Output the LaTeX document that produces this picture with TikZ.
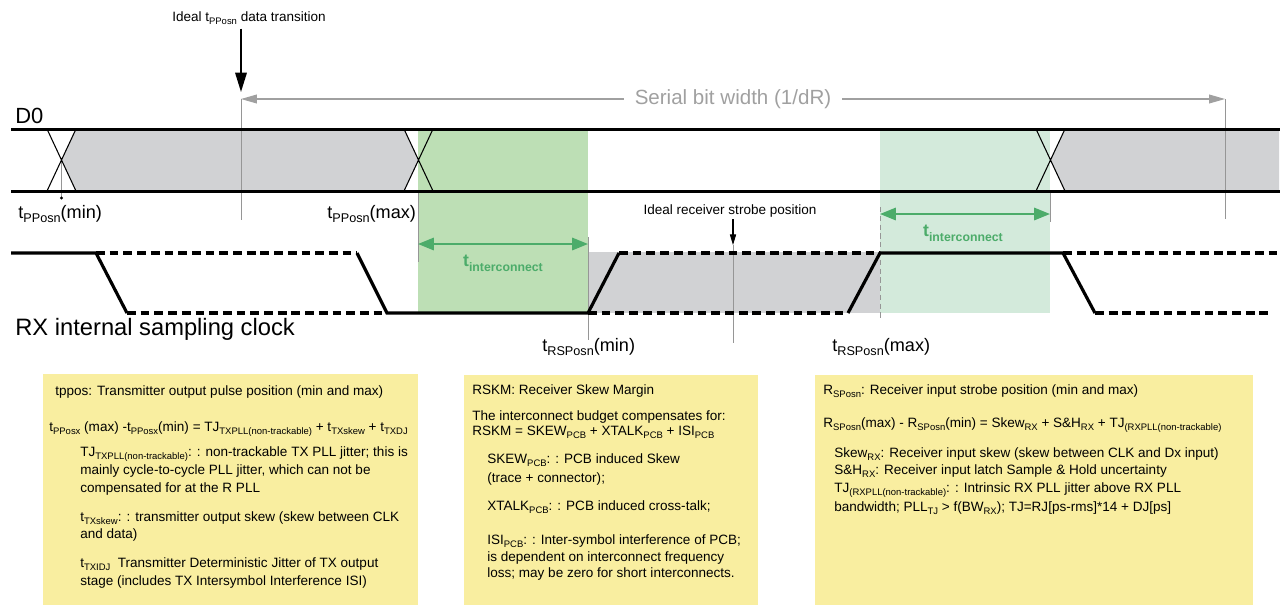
\documentclass[tikz,border=0pt]{standalone}
\usepackage{fontspec}
\setmainfont{Liberation Sans}
\usetikzlibrary{arrows.meta}
\definecolor{boxyellow}{RGB}{249,238,160}
\definecolor{greendark}{RGB}{189,223,181}
\definecolor{greenlight}{RGB}{211,234,219}
\definecolor{greentext}{RGB}{76,172,106}
\definecolor{bandgray}{RGB}{209,210,212}
\definecolor{guidegray}{RGB}{150,150,150}
\definecolor{widthgray}{RGB}{160,160,160}
\newcommand{\sbs}[1]{\raisebox{-0.5ex}{\scalebox{0.7}{#1}}}
\begin{document}
\begin{tikzpicture}[x=0.02cm, y=-0.02cm,
	bus/.style={line width=1.7pt},
	clk/.style={line width=1.8pt},
	clkdash/.style={clk, dash pattern=on 5pt off 2.8pt},
	guide/.style={guidegray, line width=0.4pt},
	lbl/.style={inner sep=0pt, font=\fontsize{10.3}{12}\selectfont},
	small/.style={inner sep=0pt, font=\fontsize{7.7}{9}\selectfont},
	big/.style={inner sep=0pt, font=\fontsize{13.5}{16}\selectfont},
	ictxt/.style={inner sep=0pt, text=greentext, font=\fontsize{10}{12}\selectfont\bfseries},
	boxtxt/.style={inner sep=0pt, anchor=base west, font=\fontsize{7.7}{9}\selectfont},
	widtharr/.style={widthgray, line width=0.6pt, -{Triangle[length=9pt,width=5pt]}},
	grarr/.style={greentext, line width=1.2pt, {Triangle[length=9pt,width=7pt]}-{Triangle[length=9pt,width=7pt]}}]
	\useasboundingbox (0,0) rectangle (1281,606);

	\fill[greendark]  (418,129) rectangle (588,313);
	\fill[greenlight] (880,129) rectangle (1050,313);
	\fill[bandgray] (588,252) rectangle (880,313);
	\fill[bandgray] (61.5,160) -- (76,129) -- (404,129) -- (418.5,160) -- (404,191) -- (76,191) -- cycle;
	\fill[bandgray] (1050,160) -- (1065,129) -- (1279,129) -- (1279,191) -- (1065,191) -- cycle;
	\fill[boxyellow] (43,374) rectangle (418,605);
	\fill[boxyellow] (464,375) rectangle (758,605);
	\fill[boxyellow] (815,375) rectangle (1253,605);

	\draw[guide] (61.5,160) -- (61.5,198);
	\fill (61.5,198) circle (1.6);
	\draw[guide] (241,99) -- (241,220);
	\draw[guide] (418,191) -- (418,262);
	\draw[guide] (588,237) -- (588,340);
	\draw[guide] (733,245) -- (733,343);
	\draw[guide, densely dashed] (880,207) -- (880,320);
	\draw[guide] (1050,191) -- (1050,222);
	\draw[guide] (1225,99) -- (1225,219);

	\draw[bus] (11,129) -- (1280,129);
	\draw[bus] (11,191) -- (1280,191);
	\draw[line width=0.6pt] (47,129) -- (76,191) (76,129) -- (47,191);
	\draw[line width=0.6pt] (404,129) -- (433,191) (433,129) -- (404,191);
	\draw[line width=0.6pt] (1036,129) -- (1065,191) (1065,129) -- (1036,191);

	\draw[clk] (11,253) -- (96,253) -- (127,313);
	\draw[clk] (357,253) -- (387,313) -- (588,313) -- (619,253);
	\draw[clk] (848,313) -- (880,253) -- (1063,253) -- (1095,313);
	\draw[clkdash] (96,253) -- (357,253);
	\draw[clkdash] (127,313) -- (387,313);
	\draw[clkdash] (619,253) -- (880,253);
	\draw[clkdash] (588,313) -- (848,313);
	\draw[clkdash] (1063,253) -- (1280,253);
	\draw[clkdash] (1095,313) -- (1270,313);

	\node (d0) at (15,123) [big, anchor=base west, font=\fontsize{12.5}{15}\selectfont] {D0};
	\node (rx) at (15,335) [big, anchor=base west] {RX internal sampling clock};
	\node (bw) at (733,99) [inner ysep=0pt, inner xsep=6pt, text=widthgray, font=\fontsize{11.7}{14}\selectfont] {Serial bit width (1/dR)};
	\coordinate (bwL) at (241,99);
	\coordinate (bwR) at (1225,99);
	\draw[widtharr] (bw) -- (bwL);
	\draw[widtharr] (bw) -- (bwR);

	\node (idl) at (249,18) [small] {Ideal t\sbs{PPosn} data transition};
	\coordinate (idlpt) at (241,92);
	\draw[line width=1.1pt, -{Triangle[length=11pt,width=6.5pt]}, shorten <=2pt] (idlpt |- idl.south) -- (idlpt);

	\node (ppmin) at (18,218) [lbl, anchor=base west] {t\sbs{PPosn}(min)};
	\node (ppmax) at (327,218) [lbl, anchor=base west] {t\sbs{PPosn}(max)};
	\node (rsmin) at (542,351) [lbl, anchor=base west] {t\sbs{RSPosn}(min)};
	\node (rsmax) at (832,351) [lbl, anchor=base west] {t\sbs{RSPosn}(max)};

	\node (strb) at (730,211) [small] {Ideal receiver strobe position};
	\coordinate (strbpt) at (733,245);
	\draw[line width=0.6pt, -{Triangle[length=6pt,width=3.5pt]}, shorten <=1pt] (strbpt |- strb.south) -- (strbpt);

	\coordinate (ic1L) at (418,244);
	\coordinate (ic1R) at (588,244);
	\draw[grarr] (ic1L) -- (ic1R);
	\node (ic1) at (503,263) [ictxt] {t\sbs{interconnect}};
	\coordinate (ic2L) at (880,214);
	\coordinate (ic2R) at (1050,214);
	\draw[grarr] (ic2L) -- (ic2R);
	\node (ic2) at (963,233) [ictxt] {t\sbs{interconnect}};

	\node (tp1) at (55,395) [boxtxt] {tppos: Transmitter output pulse position (min and max)};
	\node (tp2) at (49,431) [boxtxt] {t\sbs{PPosx} (max) -t\sbs{PPosx}(min) = TJ\sbs{TXPLL(non-trackable)} + t\sbs{TXskew} + t\sbs{TXDJ}};
	\node (tp3) at (80,456) [boxtxt] {TJ\sbs{TXPLL(non-trackable)}: : non-trackable TX PLL jitter; this is};
	\node (tp4) at (80,474) [boxtxt] {mainly cycle-to-cycle PLL jitter, which can not be};
	\node (tp5) at (80,492) [boxtxt] {compensated for at the R PLL};
	\node (tp6) at (80,521) [boxtxt] {t\sbs{TXskew}: : transmitter output skew (skew between CLK};
	\node (tp7) at (80,538) [boxtxt] {and data)};
	\node (tp8) at (80,567) [boxtxt] {t\sbs{TXIDJ}\ \ Transmitter Deterministic Jitter of TX output};
	\node (tp9) at (80,585) [boxtxt] {stage (includes TX Intersymbol Interference ISI)};

	\node (rk1) at (472,394) [boxtxt] {RSKM: Receiver Skew Margin};
	\node (rk2) at (472,420) [boxtxt] {The interconnect budget compensates for:};
	\node (rk3) at (472,435) [boxtxt] {RSKM = SKEW\sbs{PCB} + XTALK\sbs{PCB} + ISI\sbs{PCB}};
	\node (rk4) at (487,463) [boxtxt] {SKEW\sbs{PCB}: : PCB induced Skew};
	\node (rk5) at (487,482) [boxtxt] {(trace + connector);};
	\node (rk6) at (487,510) [boxtxt] {XTALK\sbs{PCB}: : PCB induced cross-talk;};
	\node (rk7) at (487,544) [boxtxt] {ISI\sbs{PCB}: : Inter-symbol interference of PCB;};
	\node (rk8) at (487,561) [boxtxt] {is dependent on interconnect frequency};
	\node (rk9) at (487,577) [boxtxt] {loss; may be zero for short interconnects.};

	\node (rs1) at (823,394) [boxtxt] {R\sbs{SPosn}: Receiver input strobe position (min and max)};
	\node (rs2) at (823,427) [boxtxt] {R\sbs{SPosn}(max) - R\sbs{SPosn}(min) = Skew\sbs{RX} + S\&H\sbs{RX} + TJ\sbs{(RXPLL(non-trackable)}};
	\node (rs3) at (834,457) [boxtxt] {Skew\sbs{RX}: Receiver input skew (skew between CLK and Dx input)};
	\node (rs4) at (834,474) [boxtxt] {S\&H\sbs{RX}: Receiver input latch Sample \& Hold uncertainty};
	\node (rs5) at (834,492) [boxtxt] {TJ\sbs{(RXPLL(non-trackable)}: : Intrinsic RX PLL jitter above RX PLL};
	\node (rs6) at (834,511) [boxtxt] {bandwidth; PLL\sbs{TJ} > f(BW\sbs{RX}); TJ=RJ[ps-rms]*14 + DJ[ps]};
\end{tikzpicture}
\end{document}
